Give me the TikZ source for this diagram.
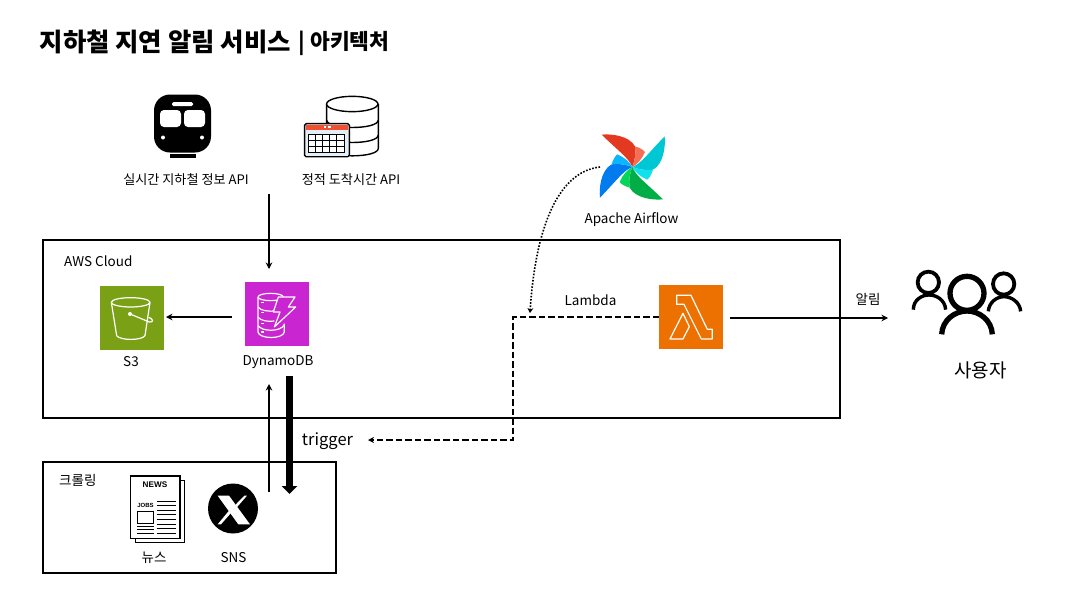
\documentclass[tikz,border=0pt]{standalone}
\usepackage{fontspec}
\setmainfont{Noto Sans CJK KR}
\newfontfamily\newsfont{Liberation Sans}
\usetikzlibrary{arrows.meta}
\definecolor{calred}{HTML}{F0502E}
\definecolor{calblue}{HTML}{E4EEF6}
\definecolor{afred}{HTML}{E43921}
\definecolor{afredl}{HTML}{F37057}
\definecolor{afcyan}{HTML}{00C7D4}
\definecolor{afcyanl}{HTML}{11E1EE}
\definecolor{afgreen}{HTML}{00AD46}
\definecolor{afgreenl}{HTML}{04D659}
\definecolor{afblue}{HTML}{017CEE}
\definecolor{afbluel}{HTML}{0CB6FF}
\definecolor{awsgreen}{HTML}{7AA116}
\definecolor{awspurple}{HTML}{C925D1}
\definecolor{awsorange}{HTML}{ED7100}
\tikzset{
  lbl/.style={inner sep=0pt,font=\fontsize{13.5}{15}\selectfont,text=black},
  apilbl/.style={inner sep=0pt,font=\fontsize{13.1}{15}\selectfont,text=black},
  frame/.style={draw=black,line width=1.6pt,fill=none,inner sep=0pt,outer sep=0pt},
  awsbox/.style={minimum width=64pt,minimum height=64pt,inner sep=0pt,outer sep=0pt},
  glyph/.style={draw=white,line width=1.2pt,fill=none,line join=round},
  conn/.style={draw=black,line width=1.5pt,-{Stealth[length=6.5pt,width=6.5pt]}},
}
\newcommand{\blade}[3]{%
  \begin{scope}[shift={(632.3,167)},scale=0.3333,rotate=#1]
    \fill[#2] (-92,-97) .. controls (-65,-100) and (-10,-95) .. (8,-62)
       .. controls (12,-40) and (6,-15) .. (0,0)
       .. controls (-12,-28) and (-35,-42) .. cycle;
    \fill[#3] (8,-62) .. controls (22,-58) and (32,-52) .. (38,-45)
       .. controls (30,-25) and (15,-8) .. (0,0)
       .. controls (6,-15) and (12,-40) .. cycle;
  \end{scope}}
\begin{document}
\begin{tikzpicture}[x=1pt,y=-1pt]
\useasboundingbox (0,0) rectangle (1080,608);
\fill[white] (0,0) rectangle (1080,608);

% title
\node[anchor=west,inner sep=0pt,font=\fontsize{25.4}{30}\selectfont\bfseries] (title) at (39.5,42) {지하철 지연 알림 서비스};
\node[anchor=west,inner sep=0pt,font=\fontsize{21.5}{30}\selectfont\bfseries] (titleb) at (298.5,43) {| 아키텍처};

% frames
\node[frame,minimum width=797pt,minimum height=178pt,anchor=north west] (aws) at (43,240) {};
\node[frame,minimum width=293pt,minimum height=111pt,anchor=north west] (crawl) at (43,462) {};
\node[lbl,anchor=west] (awslabel) at (64,261) {AWS Cloud};
\node[lbl,anchor=west] (crawllabel) at (59,480) {크롤링};

% train icon
\node[inner sep=0pt,minimum width=57pt,minimum height=58pt,fill=black,rounded corners=16pt] (train) at (182.5,123.5) {};
\fill[black] (170,154) rectangle (196,158);
\fill[white,rounded corners=1.5pt] (172,102) rectangle (193,106);
\fill[white,rounded corners=4pt] (160,110) rectangle (181,127);
\fill[white,rounded corners=4pt] (184,110) rectangle (205,127);
\fill[white] (163,137.5) circle (2);
\fill[white] (202,137.5) circle (2);
\node[apilbl] (apia) at (186,180) {실시간 지하철 정보 API};

% database + calendar icon
\begin{scope}[shift={(100,80)},scale=0.3333]
  \draw[line width=1.4pt,black,fill=white] (680,72) -- (680,205) .. controls (680,235) and (835,235) .. (835,205) -- (835,72);
  \draw[line width=1.4pt,black,fill=white] (757,72) ellipse (77 and 23);
  \draw[line width=1.4pt,black] (680,120) .. controls (680,150) and (835,150) .. (835,120);
  \draw[line width=1.4pt,black] (680,165) .. controls (680,195) and (835,195) .. (835,165);
  \draw[line width=1.4pt,black,fill=white,rounded corners=1.5pt] (614,131) rectangle (748,230);
  \fill[calred] (618,134) rectangle (745,149);
  \fill[white] (672,139) rectangle (679,144);
  \fill[white] (685,139) rectangle (692,144);
  \fill[calblue] (618,149) rectangle (745,227);
  \draw[line width=1pt,black,fill=white] (627,163) rectangle (733,217);
  \foreach \gx in {648,669,690,711} \draw[line width=1pt,black] (\gx,163) -- (\gx,217);
  \foreach \gy in {181,199} \draw[line width=1pt,black] (627,\gy) -- (733,\gy);
\end{scope}
\node[inner sep=0pt,minimum width=74pt,minimum height=60pt] (dbicon) at (341,128) {};
\node[apilbl] (apib) at (351,180) {정적 도착시간 API};

% airflow
\blade{0}{afred}{afredl}
\blade{-90}{afcyan}{afcyanl}
\blade{-180}{afgreen}{afgreenl}
\blade{-270}{afblue}{afbluel}
\node[inner sep=0pt,minimum width=62pt,minimum height=66pt] (airflow) at (632.3,167) {};
\node[lbl] (airlabel) at (631.5,220) {Apache Airflow};

% AWS services
\node[awsbox,fill=awsgreen] (s3) at (132,318) {};
\node[awsbox,fill=awspurple] (dynamo) at (277,314) {};
\node[awsbox,fill=awsorange] (lambda) at (691,317) {};
\node[lbl] (s3label) at (131,362) {S3};
\node[lbl] (dynlabel) at (278,362) {DynamoDB};
\node[lbl] (lamlabel) at (590.5,300) {Lambda};

% s3 glyph
\begin{scope}[shift={(90,270)},scale=0.3333]
  \draw[glyph] (122,97) ellipse (58 and 14);
  \draw[glyph] (64,97) -- (80,197) .. controls (90,212) and (155,212) .. (165,197) -- (180,97);
  \fill[white] (120,132) circle (6);
  \draw[glyph] (120,132) -- (178,156) .. controls (192,158) and (190,146) .. (176,142);
\end{scope}
% dynamo glyph
\begin{scope}[shift={(245,282)},scale=0.3333]
  \draw[glyph] (77,45) ellipse (38 and 11);
  \draw[glyph] (39,45) -- (39,150) .. controls (42,172) and (115,172) .. (118,150) -- (118,125);
  \draw[glyph] (39,75) .. controls (45,86) and (75,90) .. (92,86);
  \draw[glyph] (39,105) .. controls (45,116) and (70,120) .. (88,117);
  \draw[glyph] (39,130) .. controls (50,150) and (108,150) .. (118,128);
  \draw[glyph,fill=awspurple] (100,45) -- (150,45) -- (130,75) -- (152,75) -- (88,135) -- (105,90) -- (85,90) -- cycle;
  \fill[white] (47,60) rectangle (58,64);
  \fill[white] (47,90) rectangle (58,94);
  \fill[white] (47,122) rectangle (58,126);
  \fill[white] (47,148) rectangle (58,152);
\end{scope}
% lambda glyph
\begin{scope}[shift={(500,120)},scale=0.3333]
  \draw[glyph] (530,526) -- (573,526) -- (622,628) -- (637,628) -- (637,657) -- (604,657) -- (552,553) -- (530,553) -- cycle;
  \draw[glyph] (510,657) -- (549,580) -- (568,620) -- (549,657) -- cycle;
\end{scope}

% newspaper
\begin{scope}[shift={(40,460)},scale=0.3333]
  \draw[line width=1.2pt,black,fill=white] (286,62) rectangle (433,247);
  \draw[line width=1.2pt,black,fill=white] (272,48) rectangle (420,235);
  \draw[line width=1pt,black] (292,154) rectangle (342,190);
  \foreach \ly in {123,137,152,165,179,193,207,221} \draw[line width=1pt,black] (350,\ly) -- (408,\ly);
  \foreach \ly in {200,210,220} \draw[line width=1pt,black] (292,\ly) -- (342,\ly);
\end{scope}
\node[inner sep=0pt,font=\newsfont\fontsize{8.2}{9}\selectfont\bfseries] (newsword) at (155,485) {NEWS};
\node[inner sep=0pt,font=\newsfont\fontsize{6}{7}\selectfont\bfseries] (jobsword) at (145.5,505.5) {JOBS};
\node[lbl] (newslabel) at (154,558) {뉴스};

% X icon
\node[circle,fill=black,minimum size=50pt,inner sep=0pt] (sns) at (233,508.5) {};
\begin{scope}[shift={(205,480)},scale=0.3333]
  \fill[white] (38,47) -- (72,47) -- (135,133) -- (100,133) -- cycle;
  \fill[white] (118,47) -- (126,47) -- (93,85) -- (88,78) -- cycle;
  \fill[white] (72,92) -- (77,100) -- (48,133) -- (38,133) -- cycle;
\end{scope}
\node[lbl] (snslabel) at (233.5,558) {SNS};

% users
\begin{scope}[shift={(905,265)},scale=0.3333]
  \draw[black,line width=3.8pt] (70,52) circle (32);
  \draw[black,line width=3.8pt] (296,57) circle (32);
  \draw[black,line width=3.4pt] (25,134) .. controls (25,105) and (50,90) .. (72,90) .. controls (95,90) and (120,105) .. (122,134);
  \draw[black,line width=3.4pt] (250,139) .. controls (252,112) and (275,95) .. (297,95) .. controls (320,95) and (345,112) .. (347,139);
  \draw[black,line width=5.3pt] (186,85) circle (51);
  \draw[black,line width=5.3pt] (110,208) .. controls (112,165) and (150,138) .. (186,138) .. controls (222,138) and (260,165) .. (262,208);
\end{scope}
\node[inner sep=0pt,minimum width=112pt,minimum height=66pt] (users) at (967,303) {};
\node[inner sep=0pt,font=\fontsize{19}{22}\selectfont] (userlabel) at (980.5,370) {사용자};

% connector anchors
\coordinate (a1) at (269,194);
\coordinate (a2) at (269,269);
\coordinate (b1) at (232,317);
\coordinate (b2) at (166,317);
\coordinate (c1) at (730,318);
\coordinate (c2) at (888,318);
\coordinate (d2) at (368,440);
\coordinate (e1) at (269,492);
\coordinate (e2) at (269,384);
\coordinate (f1) at (289.5,376);
\coordinate (f2) at (289.5,494);
\coordinate (g1) at (600,167);
\coordinate (g2) at (530,313);

\draw[conn] (a1) -- (a2);
\draw[conn] (b1) -- (b2);
\draw[conn] (c1) -- (c2);
\draw[conn] (e1) -- (e2);
\draw[draw=black,line width=1.7pt,dash pattern=on 6.5pt off 3pt,-{Stealth[length=6pt,width=6pt]}] (lambda.west) -- (513,317) -- (513,440) -- (d2);
\draw[black,line width=7pt,-{Stealth[length=8pt,width=15pt,inset=0pt]}] (f1) -- (f2);
\draw[draw=black,line width=1.6pt,dash pattern=on 1.6pt off 1.6pt,-{Stealth[length=5pt,width=6pt]}] (g1) .. controls (555,172) and (535,235) .. (g2);

\node[lbl] (noti) at (868,299) {알림};
\node[inner sep=0pt,font=\fontsize{16.5}{18}\selectfont] (trig) at (327.5,441) {trigger};
\end{tikzpicture}
\end{document}
